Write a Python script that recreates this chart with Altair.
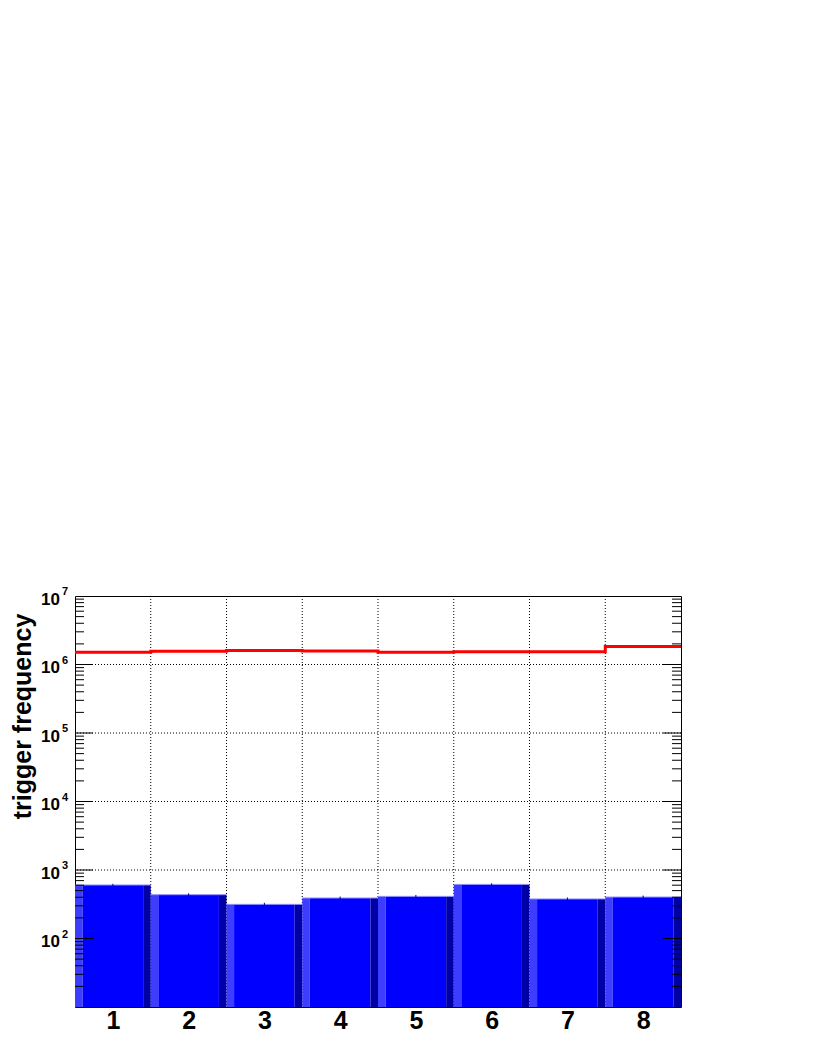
import altair as alt
import pandas as pd
import numpy as np

# ---- data ----
bins = [1, 2, 3, 4, 5, 6, 7, 8]
bin_labels = ["1", "2", "3", "4", "5", "6", "7", "8"]
counts = [604, 436, 315, 390, 412, 616, 378, 403]          # blue bars
red_vals = [1.51e6, 1.56e6, 1.60e6, 1.58e6, 1.51e6, 1.53e6, 1.53e6, 1.83e6]  # red step line
y_min, y_max = 10, 1e7
label_exps = [2, 3, 4, 5, 6, 7]
grid_y = [1e3, 1e4, 1e5, 1e6]
grid_x = [1.5, 2.5, 3.5, 4.5, 5.5, 6.5, 7.5]
y_title = "trigger frequency"

W, H = 606, 411
FONT = "Liberation Sans"

# ---- tables built from the arrays ----
stripe = 0.1
rows = []
for b, c in zip(bins, counts):
    lo, hi = b - 0.5, b + 0.5
    rows.append(dict(x=lo, x2=lo + stripe, y=c, base=y_min, part="light"))
    rows.append(dict(x=lo + stripe, x2=hi - stripe, y=c, base=y_min, part="body"))
    rows.append(dict(x=hi - stripe, x2=hi, y=c, base=y_min, part="dark"))
bars_df = pd.DataFrame(rows)

tops_df = pd.DataFrame(dict(x=[b - 0.5 for b in bins], x2=[b + 0.5 for b in bins], y=counts))
err_df = pd.DataFrame(dict(x=bins,
                           lo=[c - np.sqrt(c) for c in counts],
                           hi=[c + np.sqrt(c) for c in counts]))

step_x = [b - 0.5 for b in bins] + [bins[-1] + 0.5]
step_y = red_vals + [red_vals[-1]]
red_df = pd.DataFrame(dict(x=step_x, y=step_y))

major_vals = [10.0 ** e for e in range(2, 7)]
minor_vals = [10.0 ** e * k for e in range(1, 7) for k in range(2, 10)]
major_df = pd.DataFrame(dict(y=major_vals))
minor_df = pd.DataFrame(dict(y=minor_vals))
lab_df = pd.DataFrame(dict(y=[10.0 ** e for e in label_exps],
                           base=["10"] * len(label_exps),
                           exp=[str(e) for e in label_exps]))
gy_df = pd.DataFrame(dict(y=grid_y))
gx_df = pd.DataFrame(dict(x=grid_x))
title_df = pd.DataFrame(dict(t=[y_title]))

xscale = alt.Scale(domain=[0.5, 8.5], nice=False, zero=False)
yscale = alt.Scale(type="log", domain=[y_min, y_max], nice=False)
xaxis = alt.Axis(values=bins, labelExpr="datum.value", labelFontSize=25, labelFont=FONT,
                 labelFontWeight="bold", labelColor="black", ticks=False, domain=False,
                 grid=False, labelPadding=1, title=None)


def X(f):
    return alt.X(f, type="quantitative", scale=xscale, axis=xaxis)


def Y(f):
    return alt.Y(f, type="quantitative", scale=yscale, axis=None)


grid_h = alt.Chart(gy_df).mark_rule(color="black", strokeWidth=1, strokeDash=[1, 2]).encode(y=Y("y"))
grid_v = alt.Chart(gx_df).mark_rule(color="black", strokeWidth=1, strokeDash=[1, 2]).encode(x=X("x"))

bars = alt.Chart(bars_df).mark_rect().encode(
    x=X("x"), x2="x2", y=Y("y"), y2="base",
    color=alt.Color("part:N", scale=alt.Scale(domain=["light", "body", "dark"],
                                              range=["#3d3dff", "#0000ff", "#0000a6"]),
                    legend=None),
)
tops = alt.Chart(tops_df).mark_rule(color="#8f8fff", strokeWidth=1).encode(x=X("x"), x2="x2", y=Y("y"))
errs = alt.Chart(err_df).mark_rule(color="#0000a0", strokeWidth=1).encode(x=X("x"), y=Y("lo"), y2="hi")

red = alt.Chart(red_df).mark_line(color="#ff0000", strokeWidth=3, interpolate="step-after").encode(
    x=X("x"), y=Y("y"))

lmaj = alt.Chart(major_df).mark_rule(color="black").encode(y=Y("y"), x=alt.value(0), x2=alt.value(18))
lmin = alt.Chart(minor_df).mark_rule(color="black").encode(y=Y("y"), x=alt.value(0), x2=alt.value(9))
rmaj = alt.Chart(major_df).mark_rule(color="black").encode(y=Y("y"), x=alt.value(W - 18), x2=alt.value(W))
rmin = alt.Chart(minor_df).mark_rule(color="black").encode(y=Y("y"), x=alt.value(W - 9), x2=alt.value(W))

lab_base = alt.Chart(lab_df).mark_text(align="right", baseline="middle", dy=3.5, fontSize=17,
                                       font=FONT, fontWeight="bold", color="black").encode(
    y=Y("y"), x=alt.value(-15), text="base")
lab_exp = alt.Chart(lab_df).mark_text(align="left", baseline="middle", dy=-4, fontSize=11,
                                      font=FONT, fontWeight="bold", color="black").encode(
    y=Y("y"), x=alt.value(-13), text="exp")

title = alt.Chart(title_df).mark_text(angle=270, align="center", baseline="middle", fontSize=25,
                                      font=FONT, fontWeight="bold", color="black").encode(
    x=alt.value(-52.5), y=alt.value(120.5), text="t")

chart = alt.layer(grid_h, grid_v, bars, tops, errs, red, lmin, lmaj, rmin, rmaj,
                  lab_base, lab_exp, title).properties(
    width=W, height=H,
    autosize=alt.AutoSizeParams(type="none"),
    padding={"left": 67, "top": 588, "right": 120, "bottom": 45},
    background="white",
).configure_view(stroke="black", strokeWidth=1)

chart.save("out.html", embed_options={"renderer": "svg", "actions": False})
